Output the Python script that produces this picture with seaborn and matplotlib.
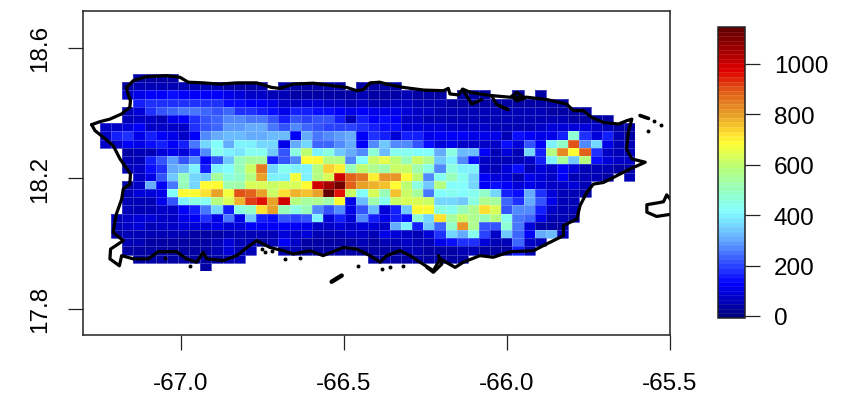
import numpy as np
import pandas as pd
import matplotlib
matplotlib.use("Agg")
import matplotlib.pyplot as plt
from matplotlib.colors import LinearSegmentedColormap
import seaborn as sns

N = np.nan

# Gridded intensity over Puerto Rico: first occupied column of each row, then its values
row_start = [3, 2, 2, 3, 2, 2, 0, 0, 0, 2, 2, 2, 3, 2, 2, 2, 2, 1, 1, 1, 2, 2, 3, 9]
row_00 = [45, 40, 45, 40]
row_01 = [40, 55, 50, 50, 55, 60, 55, 50, 50, 45, 45, 40, 40, N, 35, 35, 40, 40, 40, 40, N, 40, 40, 40, 40]
row_02 = [70, 110, 120, 130, 150, 130, 120, 120, 120, 110, 90, 80, 70, 60, 50, 40, 40, 45, 40, 40, 45, 50, 45,
          45, 45, 50, 45, 40, 40, N, 40, 40, 40, N, N, 40, N, 40]
row_03 = [170, 190, 180, 190, 190, 190, 180, 180, 150, 140, 120, 120, 110, 70, 70, 90, 90, 80, 70, 60, 70, 60,
          60, 70, 70, 50, 50, 50, 45, 45, 40, 40, 40, 40, 40, 40, 40, 40, 40]
row_04 = [60, 100, 180, 210, 230, 250, 260, 230, 220, 230, 190, 180, 170, 150, 110, 160, 170, 150, 140, 130, 110,
          120, 110, 110, 110, 90, 70, 70, 60, 50, 50, 50, 50, 50, 50, 55, 55, 50, 45, 45, 45, 40]
row_05 = [60, 70, 70, 60, 110, 130, 190, 220, 230, 270, 270, 250, 260, 220, 170, 210, 200, 210, 210, 170, 60, 170,
          120, 140, 130, 80, 80, 60, 60, 50, 50, 50, 50, 50, 50, 50, 50, 50, 50, 50, 45, 45, 45, 40]
row_06 = [70, 80, 90, 130, 80, 70, 80, 80, 190, 210, 230, 290, 290, 310, 300, 260, 220, 270, 230, 210, 200, 200,
          200, 190, 160, 150, 150, 90, 100, 90, 90, 80, 70, 70, 70, 60, 60, 60, 60, 70, 90, 90, 100, 90, 70, 50, 40, 40]
row_07 = [70, 170, 190, 110, 170, 130, 110, 80, 120, 280, 310, 330, 320, 310, 310, 320, 320, 130, 300, 260, 280,
          290, 300, 130, 180, 170, 100, 170, 160, 110, 120, 130, 130, 110, 110, 110, 60, 150, 130, 110, 110, 170,
          470, 180, 100, 160, 60, 40]
row_08 = [70, 70, 130, 110, 150, 170, 120, 170, 260, 370, 410, 310, 390, 400, 360, 370, 110, 300, 360, 240, 230,
          280, 300, 120, 270, 340, 280, 280, 220, 140, 100, 110, 80, 80, 70, 70, 140, 100, 210, 130, 390, 480, 900,
          270, 370, 110, 50, 50]
row_09 = [45, 50, 60, 100, 110, 100, 170, 270, 440, 400, 380, 440, 440, 350, 210, 460, 590, 400, 450, 350, 300,
          280, 470, 330, 430, 440, 410, 410, 300, 460, 320, 320, 130, 60, 100, 60, 360, 160, 570, 830, 690,
          880, 190, 70, 60, 60]
row_10 = [50, 50, 170, 210, 290, 210, 280, 130, 220, 340, 510, 540, 540, 170, 210, 280, 690, 680, 580, 580, 280,
          420, 620, 650, 590, 500, 610, 560, 350, 400, 280, 140, 80, 60, 50, 50, 70, 170, 400, 540, 350, 570, 150,
          100, 80, 80]
row_11 = [50, 70, 150, 190, 300, 320, 400, 170, 400, 420, 510, 620, 840, 360, 440, 390, 400, 570, 740, 710, 510,
          590, 560, 530, 620, 620, 520, 450, 280, 450, 390, 390, 70, 50, 100, 150, 60, 100, 70, 130, 100, 60, 60,
          50, 40, 40]
row_12 = [70, 110, 220, 350, 500, 360, 340, 550, 450, 480, 570, 800, 390, 400, 670, 400, 580, 630, 990, 890, 840,
          710, 810, 810, 680, 590, 270, 440, 500, 440, 370, 130, 100, 100, 60, 110, 90, 70, 130, 60, 50, 50, 40, N, 50]
row_13 = [40, 70, 300, 130, 260, 510, 360, 680, 690, 520, 530, 640, 640, 610, 640, 630, 680, 1000, 1040, 1120, 880,
          800, 770, 750, 680, 590, 450, 340, 570, 410, 410, 370, 120, 140, 120, 100, 110, 100, 70, 70, 90, 50]
row_14 = [60, 90, 100, 110, 410, 690, 690, 730, 790, 660, 900, 880, 800, 610, 720, 780, 760, 800, 1140, 950, 620,
          420, 640, 500, 760, 620, 540, 250, 420, 430, 420, 430, 480, 360, 170, 150, 300, 190, 90, 60, 50, 40]
row_15 = [60, 60, 60, 110, 210, 390, 460, 440, 570, 640, 780, 920, 960, 790, 990, 570, 540, 560, 520, 680, 110,
          330, 530, 440, 610, 630, 640, 610, 370, 370, 340, 450, 560, 540, 240, 190, 300, 210, 110, 50, 60]
row_16 = [50, 50, 50, 70, 80, 120, 170, 260, 360, 170, 460, 480, 730, 800, 510, 450, 500, 280, 210, 280, 110, 210,
          320, 100, 170, 340, 680, 680, 460, 440, 500, 560, 720, 640, 220, 280, 270, 160, 70, 60, 50]
row_17 = [60, 70, 90, 90, 70, 80, 110, 130, 180, 110, 260, 110, 340, 170, 140, 210, 200, 220, 390, 100, 170, 100,
          270, 170, 110, 170, 150, 470, 360, 720, 540, 610, 560, 500, 570, 430, 260, 240, 110, 50, 50, 40]
row_18 = [60, 80, 90, 60, 70, 80, 90, 100, 100, 110, 90, 100, 120, 120, 120, 130, 130, 110, 80, 70, 100, 70, 100,
          90, 80, 300, 390, 160, 350, 240, 480, 810, 560, 220, 210, 470, 260, 90, 40, 40, 40]
row_19 = [40, 50, 50, 50, 50, 50, 50, 40, 40, 40, 60, 60, 60, 50, 60, 100, 70, 100, 50, 50, 60, 70, 70, 60,
          110, 100, 80, 60, 90, 180, 360, 300, 440, 200, 70, 350, 240, 130, 310, 320, 50]
row_20 = [50, 50, 40, 40, 40, 40, 30, 30, 50, 90, 60, 60, 40, 50, 120, 70, 40, 40, 30, 30, 40, 50, 40,
          50, 60, 70, 60, 60, 110, 150, 190, 180, 90, 60, 50, 240, 70, 50]
row_21 = [45, 40, 40, 40, 40, 40, 35, 35, 50, 90, 60, 50, N, N, 60, 50, 40, 35, 35, 35, 40, 40, 40,
          45, 45, 50, 50, 45, 45, 45, 50, 50, 45, 45, 45, 170, 60]
row_22 = [40, 40, 40, 40, 40, 40, 40, 40, 50, 50, N, N, N, N, N, N, N, N, N, N, N,
          40, 40, 40, 40, 40, 40, 40, 40, 40]
row_23 = [40]

intensity_rows = [row_00, row_01, row_02, row_03, row_04, row_05, row_06, row_07, row_08, row_09, row_10, row_11,
                  row_12, row_13, row_14, row_15, row_16, row_17, row_18, row_19, row_20, row_21, row_22, row_23]

# Grid extent in degrees
lon_west, lon_east = -67.2485, -65.607
lat_north, lat_south = 18.519, 17.916

# Main island shoreline
coast_lon = [-67.274, -67.249, -67.218, -67.182, -67.157, -67.155, -67.164, -67.167, -67.146, -67.106, -67.044,
             -67.003, -66.978, -66.932, -66.881, -66.829, -66.768, -66.722, -66.697, -66.656, -66.594, -66.533,
             -66.492, -66.461, -66.441, -66.420, -66.390, -66.369, -66.318, -66.256, -66.195, -66.180, -66.175,
             -66.149, -66.136, -66.113, -66.083, -66.047, -65.991, -65.939, -65.878, -65.817, -65.796, -65.766,
             -65.740, -65.704, -65.658, -65.633, -65.617, -65.628, -65.633, -65.617, -65.576, -65.612, -65.633,
             -65.653, -65.704, -65.735, -65.755, -65.776, -65.786, -65.827, -65.827, -65.878, -65.919, -65.991,
             -66.042, -66.083, -66.134, -66.159, -66.205, -66.226, -66.267, -66.297, -66.328, -66.369, -66.389,
             -66.420, -66.461, -66.502, -66.564, -66.604, -66.656, -66.686, -66.727, -66.768, -66.804, -66.829,
             -66.870, -66.921, -66.932, -66.952, -66.983, -67.013, -67.070, -67.100, -67.146, -67.182, -67.189,
             -67.218, -67.216, -67.177, -67.208, -67.203, -67.198, -67.182, -67.177, -67.157, -67.155, -67.187,
             -67.208, -67.238, -67.264, -67.274]
coast_lat = [18.364, 18.373, 18.381, 18.397, 18.417, 18.437, 18.463, 18.478, 18.499, 18.511, 18.514,
             18.509, 18.494, 18.492, 18.488, 18.492, 18.492, 18.478, 18.475, 18.488, 18.491, 18.483,
             18.478, 18.468, 18.471, 18.492, 18.494, 18.488, 18.478, 18.470, 18.468, 18.475, 18.458,
             18.455, 18.473, 18.463, 18.458, 18.453, 18.448, 18.448, 18.441, 18.427, 18.407, 18.407,
             18.386, 18.371, 18.366, 18.376, 18.381, 18.341, 18.289, 18.259, 18.249, 18.233, 18.223,
             18.213, 18.187, 18.182, 18.157, 18.116, 18.075, 18.055, 18.024, 17.999, 17.978, 17.975,
             17.958, 17.963, 17.943, 17.927, 17.953, 17.917, 17.943, 17.963, 17.978, 17.963, 17.943,
             17.963, 17.983, 17.988, 17.963, 17.978, 17.968, 17.978, 17.988, 18.009, 17.983, 17.963,
             17.948, 17.953, 17.973, 17.943, 17.953, 17.975, 17.975, 17.953, 17.953, 17.963, 17.932,
             17.953, 17.983, 18.009, 18.034, 18.065, 18.091, 18.136, 18.167, 18.182, 18.213, 18.259,
             18.300, 18.325, 18.346, 18.364]

# Lagoons and reef strokes along the north-east and south shores
san_juan_lon = [-66.136, -66.118, -66.108, -66.077]
san_juan_lat = [18.471, 18.443, 18.427, 18.441]
loiza_lon = [-66.047, -66.033, -65.996, -66.026]
loiza_lat = [18.453, 18.427, 18.410, 18.422]
fajardo_lon = [-65.985, -65.970, -65.945, -65.970, -65.985]
fajardo_lat = [18.451, 18.437, 18.445, 18.463, 18.451]
guayama_lon = [-66.246, -66.226, -66.200, -66.210]
guayama_lat = [17.927, 17.912, 17.937, 17.963]

# Vieques, running off the eastern edge
vieques_lon = [-65.495, -65.510, -65.520, -65.541, -65.571, -65.571, -65.541, -65.495]
vieques_lat = [18.131, 18.149, 18.128, 18.124, 18.119, 18.096, 18.083, 18.090]

# Caja de Muertos and the easterly cay
cay_a_lon = [-66.538, -66.507]
cay_a_lat = [17.883, 17.902]
cay_b_lon = [-65.592, -65.566]
cay_b_lat = [18.392, 18.383]

# Small rocks along the shore
rock_lon = [-66.456, -66.681, -66.635, -66.973, -67.049, -66.384, -66.359, -66.320, -65.566, -65.527, -65.549,
            -66.753, -66.743, -66.722]
rock_lat = [17.930, 17.953, 17.956, 17.932, 17.955, 17.922, 17.927, 17.930, 18.346, 18.363, 18.374,
            17.983, 17.973, 17.978]

x_ticks = [-67.0, -66.5, -66.0, -65.5]
x_tick_labels = ["-67.0", "-66.5", "-66.0", "-65.5"]
y_ticks = [17.8, 18.2, 18.6]
y_tick_labels = ["17.8", "18.2", "18.6"]
bar_ticks = [0, 200, 400, 600, 800, 1000]
bar_low, bar_high = -8, 1145

# Colour ramp in the style of tim.colors, with 64 levels
ramp_values = [-8, 125, 200, 300, 410, 500, 600, 685, 730, 800, 900, 975, 1050, 1145]
ramp_colors = ["#000082", "#0000ff", "#2c48ff", "#64aaff", "#82ffff", "#96ffbe", "#beff6e", "#ffff32",
               "#ffdc32", "#e8a028", "#e15a19", "#e10000", "#aa0000", "#640000"]

sns.set_style("ticks")
plt.rcParams["font.family"] = ["Liberation Sans", "DejaVu Sans"]

W, H = 860, 402
fig = plt.figure(figsize=(W / 100, H / 100), dpi=100, facecolor="white")


def box(left, top, right, bottom):
    return [left / W, 1 - bottom / H, (right - left) / W, (bottom - top) / H]


grid = np.full((24, 48), np.nan)
for r, (start, values) in enumerate(zip(row_start, intensity_rows)):
    grid[r, start:start + len(values)] = values
lon_centres = np.round(np.linspace(lon_west, lon_east, 49)[:-1], 3)
lat_centres = np.round(np.linspace(lat_north, lat_south, 25)[:-1], 3)
table = pd.DataFrame(grid, index=lat_centres, columns=lon_centres)

ramp_span = bar_high - bar_low
cmap = LinearSegmentedColormap.from_list(
    "tim", [((v - bar_low) / ramp_span, c) for v, c in zip(ramp_values, ramp_colors)], N=64)

# Lon/lat frame: carries the ticks and the shoreline above the heatmap
ax = fig.add_axes(box(82.7, 12, 670, 336), zorder=3)
ax.patch.set_alpha(0)
ax.set_xlim(-67.3015, -65.5)
ax.set_ylim(17.720, 18.712)

# Heatmap axes aligned with the grid's extent inside the frame
fig.canvas.draw()
corner_a = ax.transData.transform((lon_west, lat_south))
corner_b = ax.transData.transform((lon_east, lat_north))
heat_ax = fig.add_axes([corner_a[0] / W, corner_a[1] / H,
                        (corner_b[0] - corner_a[0]) / W, (corner_b[1] - corner_a[1]) / H], zorder=1)
cax = fig.add_axes(box(718, 28, 745, 319), zorder=2)

sns.heatmap(table, ax=heat_ax, cmap=cmap, vmin=bar_low, vmax=bar_high, cbar_ax=cax,
            cbar_kws={"drawedges": True, "ticks": bar_ticks},
            linewidths=0.4, linecolor=(1, 1, 1, 0.22), xticklabels=False, yticklabels=False)
heat_ax.axis("off")

coast_style = dict(color="black", lw=2.3, solid_joinstyle="round", solid_capstyle="round")
for xs, ys in [(coast_lon, coast_lat), (vieques_lon, vieques_lat), (san_juan_lon, san_juan_lat),
               (loiza_lon, loiza_lat), (fajardo_lon, fajardo_lat), (guayama_lon, guayama_lat)]:
    sns.lineplot(x=xs, y=ys, ax=ax, sort=False, estimator=None, **coast_style)
sns.lineplot(x=cay_a_lon, y=cay_a_lat, ax=ax, sort=False, estimator=None, color="black", lw=3.2)
sns.lineplot(x=cay_b_lon, y=cay_b_lat, ax=ax, sort=False, estimator=None, color="black", lw=2.6)
ax.scatter(rock_lon, rock_lat, s=8, color="black", linewidths=0)

ax.set_xlim(-67.3015, -65.5)
ax.set_ylim(17.720, 18.712)
ax.set_xticks(x_ticks, x_tick_labels)
ax.set_yticks(y_ticks, y_tick_labels)
ax.tick_params(axis="x", length=10.8, width=0.9, color="#222222", labelsize=17.5, pad=16, labelcolor="black")
ax.tick_params(axis="y", length=10.8, width=0.9, color="#222222", labelsize=17.5, pad=12, labelcolor="black")
for label in ax.get_yticklabels():
    label.set_rotation(90)
    label.set_va("center")
for side in ax.spines.values():
    side.set_visible(True)
    side.set_linewidth(1.1)
    side.set_color("#222222")

colorbar = heat_ax.collections[0].colorbar
colorbar.dividers.set_color((1, 1, 1, 0.12))
colorbar.dividers.set_linewidth(0.5)
colorbar.outline.set_edgecolor("#222222")
colorbar.outline.set_linewidth(1.1)
cax.tick_params(axis="y", length=10.8, width=0.9, color="#222222", labelsize=17.5, pad=10, labelcolor="black")
cax.set_yticks(bar_ticks, [str(t) for t in bar_ticks])

fig.savefig("out.png", dpi=100, facecolor="white")
